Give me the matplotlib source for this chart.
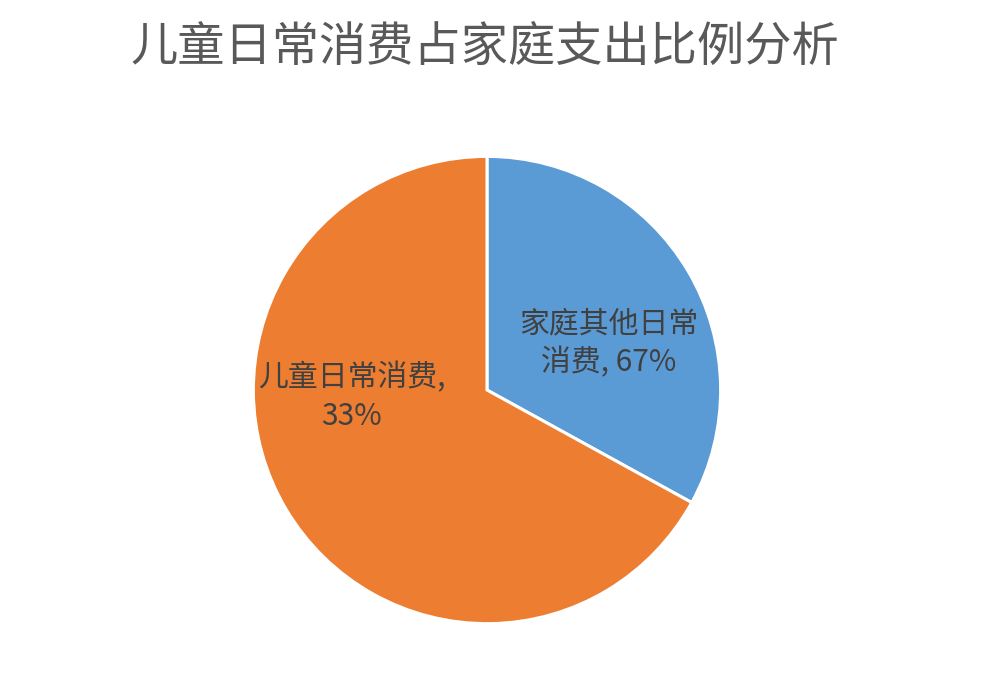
import matplotlib
matplotlib.use("Agg")
import matplotlib.pyplot as plt

plt.rcParams['font.family'] = ['Noto Sans CJK SC', 'DejaVu Sans']

# slice sizes as drawn (clockwise from 12 o'clock)
categories = ["家庭其他日常消费", "儿童日常消费"]
sizes = [33, 67]
# percentages as printed in the data labels
shown_pct = [67, 33]
label_text = ["家庭其他日常\n消费, {}%", "儿童日常消费,\n{}%"]
colors = ["#5B9BD5", "#ED7D31"]

fig = plt.figure(figsize=(10, 6.94), dpi=100)
fig.patch.set_facecolor("white")

ax = fig.add_axes([0.251, 0.098, 0.472, 0.680])
wedges, _ = ax.pie(sizes, colors=colors, startangle=90, counterclock=False,
                   wedgeprops=dict(edgecolor="white", linewidth=2.2))
ax.set_aspect("equal")
ax.set_xlim(-1.01, 1.01)
ax.set_ylim(-1.01, 1.01)

# data label spots, in axes data units
label_pos = [(0.52, 0.20), (-0.58, -0.03)]
for txt, pct, (x, y) in zip(label_text, shown_pct, label_pos):
    ax.text(x, y, txt.format(pct), ha="center", va="center",
            fontsize=21.5, color="#404040", linespacing=1.35)

fig.text(0.485, 0.93, "儿童日常消费占家庭支出比例分析", ha="center", va="center",
         fontsize=34, color="#595959")

fig.savefig("out.png", dpi=100)
